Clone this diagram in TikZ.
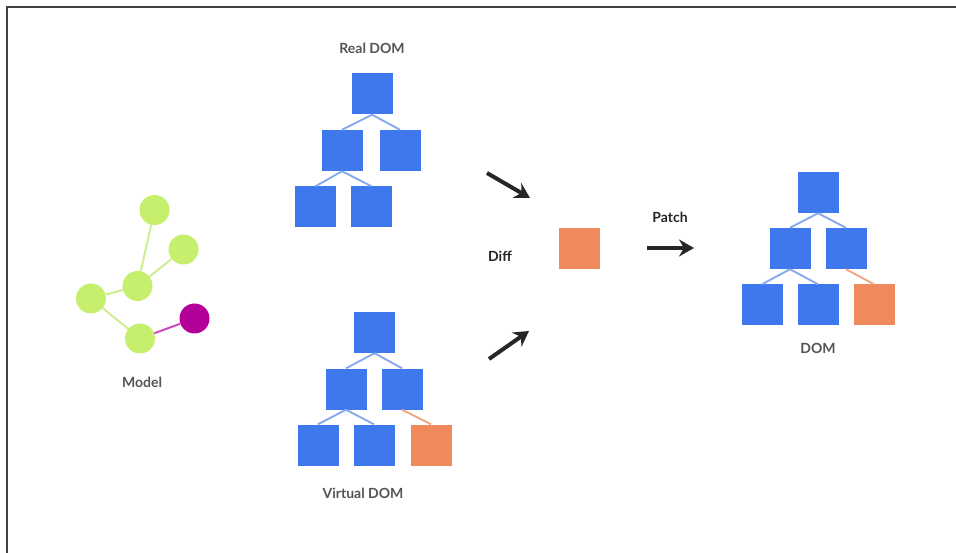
\documentclass[tikz,border=0pt]{standalone}
\usepackage{fontspec}
\setmainfont{Lato}
\usetikzlibrary{arrows.meta}
\definecolor{domblue}{HTML}{3F78EC}
\definecolor{domline}{HTML}{86A9F2}
\definecolor{difforange}{HTML}{F0895C}
\definecolor{orangeline}{HTML}{F4A585}
\definecolor{modelgreen}{HTML}{C6EF6E}
\definecolor{greenline}{HTML}{CDEE8C}
\definecolor{modelmag}{HTML}{B4009A}
\definecolor{magline}{HTML}{CC44BC}
\definecolor{labelgray}{HTML}{555555}
\definecolor{arrowdark}{HTML}{262626}
\begin{document}
\begin{tikzpicture}[x=1pt,y=-1pt,
  bluebox/.style={fill=domblue,draw=none,minimum width=41pt,minimum height=41pt,inner sep=0pt},
  orbox/.style={fill=difforange,draw=none,minimum width=41pt,minimum height=41pt,inner sep=0pt},
  treeline/.style={draw=domline,line width=1.9pt},
  orline/.style={draw=orangeline,line width=1.9pt},
  mnode/.style={circle,fill=modelgreen,minimum size=30pt,inner sep=0pt},
  mmag/.style={circle,fill=modelmag,minimum size=30pt,inner sep=0pt},
  gline/.style={draw=greenline,line width=1.9pt},
  lbl/.style={text=labelgray,font=\bfseries\fontsize{14}{16}\selectfont},
  dlbl/.style={text=arrowdark,font=\bfseries\fontsize{14}{16}\selectfont},
  bigarrow/.style={draw=arrowdark,line width=4pt,-{Stealth[length=15pt,width=17pt,inset=5pt]}}
]
\useasboundingbox (0,0) rectangle (956,553);
\fill[white] (0,0) rectangle (956,553);
% frame
\coordinate (fl) at (7,553);
\coordinate (ftl) at (7,7.5);
\coordinate (ftr) at (956,7.5);
\draw[draw=black!75,line width=2pt] (fl) -- (ftl) -- (ftr);

% Real DOM
\node[lbl] (rlabel) at (372,48) {Real DOM};
\node[bluebox] (r1) at (372,94) {};
\node[bluebox] (r2) at (342,150.5) {};
\node[bluebox] (r3) at (400,150.5) {};
\node[bluebox] (r4) at (315.5,207) {};
\node[bluebox] (r5) at (371.5,207) {};
\draw[treeline] (r1.south) -- (r2.north);
\draw[treeline] (r1.south) -- (r3.north);
\draw[treeline] (r2.south) -- (r4.north);
\draw[treeline] (r2.south) -- (r5.north);

% Virtual DOM
\node[bluebox] (v1) at (374.5,332.5) {};
\node[bluebox] (v2) at (346,389) {};
\node[bluebox] (v3) at (402,389) {};
\node[bluebox] (v4) at (318,445) {};
\node[bluebox] (v5) at (374,445) {};
\node[orbox] (v6) at (431,445) {};
\draw[treeline] (v1.south) -- (v2.north);
\draw[treeline] (v1.south) -- (v3.north);
\draw[treeline] (v2.south) -- (v4.north);
\draw[treeline] (v2.south) -- (v5.north);
\draw[orline] (v3.south) -- (v6.north);
\node[lbl] (vlabel) at (363,493) {Virtual DOM};

% Model
\node[mnode] (ma) at (154.5,210) {};
\node[mnode] (mb) at (183.5,249.5) {};
\node[mnode] (mc) at (137.5,286) {};
\node[mnode] (md) at (91,298.5) {};
\node[mnode] (me) at (140,338.5) {};
\node[mmag] (mf) at (194.5,318.5) {};
\draw[gline] (ma) -- (mc);
\draw[gline] (mb) -- (mc);
\draw[gline] (mc) -- (md);
\draw[gline] (md) -- (me);
\draw[draw=magline,line width=1.9pt] (me) -- (mf);
\node[lbl] (mlabel) at (142,382) {Model};

% Diff
\node[dlbl] (difflabel) at (500,256) {Diff};
\node[orbox] (diffbox) at (579.5,248.5) {};
\coordinate (a1s) at (487,173);
\coordinate (a1e) at (530,198);
\coordinate (a2s) at (489,359);
\coordinate (a2e) at (529,331);
\draw[bigarrow] (a1s) -- (a1e);
\draw[bigarrow] (a2s) -- (a2e);

% Patch
\node[dlbl] (patchlabel) at (670,217) {Patch};
\coordinate (p1s) at (647,248);
\coordinate (p1e) at (694,248);
\draw[bigarrow] (p1s) -- (p1e);

% DOM
\node[bluebox] (d1) at (818,192.5) {};
\node[bluebox] (d2) at (790,248.5) {};
\node[bluebox] (d3) at (846,248.5) {};
\node[bluebox] (d4) at (762,305) {};
\node[bluebox] (d5) at (818,305) {};
\node[orbox] (d6) at (874,305) {};
\draw[treeline] (d1.south) -- (d2.north);
\draw[treeline] (d1.south) -- (d3.north);
\draw[treeline] (d2.south) -- (d4.north);
\draw[treeline] (d2.south) -- (d5.north);
\draw[orline] (d3.south) -- (d6.north);
\node[lbl] (dlabel) at (818,348) {DOM};
\end{tikzpicture}
\end{document}
